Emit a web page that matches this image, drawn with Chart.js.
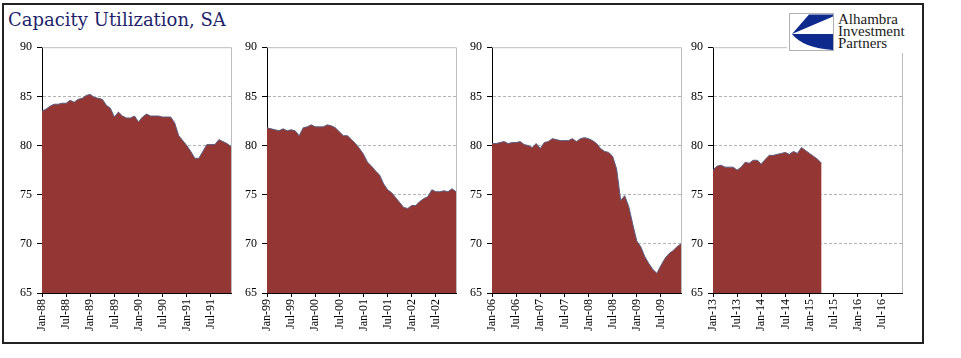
<!DOCTYPE html>
<html>
<head>
<meta charset="utf-8">
<script src="https://cdn.jsdelivr.net/npm/chart.js@4.4.0/dist/chart.umd.min.js"></script>
<style>
  html, body { margin: 0; padding: 0; background: #fff; }
  #wrap { position: relative; width: 961px; height: 358px; overflow: hidden; }
  #frame { position: absolute; left: 2px; top: 3px; width: 918px; height: 337px; border: 2px solid #222; }
  #title { position: absolute; left: 8px; top: 11px; font: 18px/1 "DejaVu Serif", serif; color: #1f1f6b; white-space: nowrap; }
  .panel { position: absolute; top: 35px; }
  #logo { position: absolute; left: 787px; top: 8px; width: 124px; height: 45px; background: #fff; }
  #logoText { position: absolute; left: 51px; top: 5px; font: 15px/12px "Liberation Serif", serif; color: #1a1a1a; }
</style>
</head>
<body>
<div id="wrap">
  <div id="frame"></div>
  <div id="title">Capacity Utilization, SA</div>
  <canvas id="p1" class="panel" width="225" height="303" style="left:12px"></canvas>
  <canvas id="p2" class="panel" width="225" height="303" style="left:237px"></canvas>
  <canvas id="p3" class="panel" width="225" height="303" style="left:462px"></canvas>
  <canvas id="p4" class="panel" width="225" height="303" style="left:683px"></canvas>
  <div id="logo">
    <svg width="46" height="39" style="position:absolute;left:2px;top:5px">
      <rect x="0.5" y="0.5" width="44" height="37" fill="#fff" stroke="#b0b0b0"/>
      <path d="M20,1.5 L44,1.5 L44,3.5 L3,21 Z" fill="#0d2a8c"/>
      <path d="M3,21 L44,21 L44,37 Q14,35 3,21 Z" fill="#0d2a8c"/>
    </svg>
    <div id="logoText">Alhambra<br>Investment<br>Partners</div>
  </div>
</div>
<script>
const monthNames = ['Jan', 'Feb', 'Mar', 'Apr', 'May', 'Jun', 'Jul', 'Aug', 'Sep', 'Oct', 'Nov', 'Dec'];
const years1 = ['88', '89', '90', '91'];
const years2 = ['99', '00', '01', '02'];
const years3 = ['06', '07', '08', '09'];
const years4 = ['13', '14', '15', '16'];

// capacity utilization, monthly
const cu8891 = [83.5, 83.7, 84.0, 84.2, 84.2, 84.3, 84.3, 84.6, 84.4, 84.7, 84.8, 85.1,
                85.2, 84.9, 84.8, 84.7, 84.1, 83.8, 82.9, 83.4, 83.0, 82.8, 82.8, 83.0,
                82.4, 82.9, 83.2, 83.0, 83.0, 83.0, 82.9, 82.9, 82.9, 82.3, 81.0, 80.5,
                80.0, 79.4, 78.7, 78.7, 79.4, 80.1, 80.1, 80.1, 80.6, 80.4, 80.2, 79.9];
const cu9902 = [81.8, 81.7, 81.6, 81.5, 81.7, 81.5, 81.6, 81.5, 81.0, 81.8, 81.9, 82.1,
                81.9, 81.9, 81.9, 82.1, 82.0, 81.8, 81.4, 81.0, 81.0, 80.6, 80.2, 79.7,
                79.1, 78.3, 77.9, 77.4, 77.0, 76.1, 75.5, 75.2, 74.7, 74.2, 73.7, 73.6,
                73.9, 73.9, 74.3, 74.6, 74.8, 75.5, 75.3, 75.3, 75.4, 75.3, 75.6, 75.3];
const cu0609 = [80.2, 80.2, 80.3, 80.4, 80.2, 80.3, 80.3, 80.4, 80.1, 80.0, 79.8, 80.2,
                79.7, 80.3, 80.4, 80.7, 80.6, 80.5, 80.5, 80.5, 80.7, 80.4, 80.7, 80.8,
                80.7, 80.5, 80.2, 79.7, 79.4, 79.3, 78.9, 77.6, 74.4, 74.9, 73.8, 72.0,
                70.3, 69.7, 68.7, 68.0, 67.4, 67.0, 67.8, 68.5, 69.0, 69.3, 69.7, 70.0];
const cu1316 = [77.5, 77.9, 78.0, 77.8, 77.8, 77.8, 77.5, 77.8, 78.3, 78.2, 78.5, 78.5,
                78.1, 78.6, 79.0, 79.0, 79.1, 79.2, 79.3, 79.1, 79.4, 79.2, 79.8, 79.5,
                79.2, 78.9, 78.6, 78.2, null, null, null, null, null, null, null, null,
                null, null, null, null, null, null, null, null, null, null, null, null];

const yTicks = [65, 70, 75, 80, 85, 90];

function monthLabels(years) {
    const out = [];
    years.forEach(y => monthNames.forEach(m => out.push(m + '-' + y)));
    return out;
}

const tickFont = { family: 'Liberation Serif', size: 12 };

// top + right gray frame of each plot
const plotFrame = {
    id: 'plotFrame',
    beforeDatasetsDraw(chart) {
        const { ctx, chartArea: a } = chart;
        ctx.save();
        ctx.strokeStyle = '#bdbdbd';
        ctx.lineWidth = 1;
        ctx.beginPath();
        ctx.moveTo(a.left, a.top + 0.5);
        ctx.lineTo(a.right + 0.5, a.top + 0.5);
        ctx.lineTo(a.right + 0.5, a.bottom);
        ctx.stroke();
        ctx.restore();
    }
};

function makePanel(id, years, values) {
    new Chart(document.getElementById(id), {
        type: 'line',
        data: {
            labels: monthLabels(years),
            datasets: [{
                data: values,
                fill: 'start',
                backgroundColor: '#943634',
                borderColor: '#5a5d80',
                borderWidth: 1,
                pointRadius: 0,
                tension: 0
            }]
        },
        options: {
            responsive: false,
            animation: false,
            layout: { padding: { top: 8, right: 6, left: 0, bottom: 0 } },
            plugins: { legend: { display: false }, tooltip: { enabled: false } },
            scales: {
                x: {
                    offset: false,
                    grid: { drawOnChartArea: false, color: '#000', tickLength: 4 },
                    border: { color: '#000', width: 1 },
                    ticks: {
                        autoSkip: false, minRotation: 90, maxRotation: 90, padding: 2,
                        font: tickFont, color: '#000',
                        callback: function (v, i) { return i % 6 === 0 ? this.getLabelForValue(v) : null; }
                    },
                    afterFit: s => { s.height = 45; }
                },
                y: {
                    min: yTicks[0],
                    max: yTicks[yTicks.length - 1],
                    afterBuildTicks: s => { s.ticks = yTicks.map(v => ({ value: v })); },
                    grid: {
                        color: c => (c.tick && c.tick.value > 65 && c.tick.value < 90) ? '#b3b3b3' : 'rgba(0,0,0,0)',
                        tickColor: '#000',
                        tickLength: 5
                    },
                    border: { color: '#000', width: 1, dash: [3, 2] },
                    ticks: { font: tickFont, color: '#000', padding: 5 },
                    afterFit: s => { s.width = 30; }
                }
            }
        },
        plugins: [plotFrame]
    });
}

makePanel('p1', years1, cu8891);
makePanel('p2', years2, cu9902);
makePanel('p3', years3, cu0609);
makePanel('p4', years4, cu1316);
</script>
</body>
</html>
